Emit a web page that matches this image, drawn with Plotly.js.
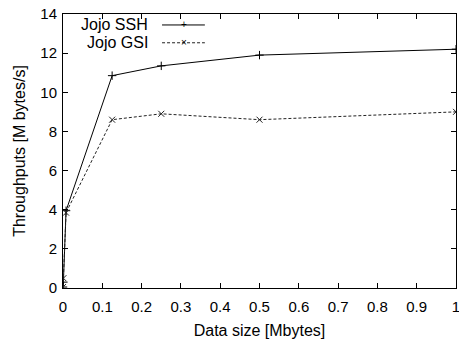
<!DOCTYPE html>
<html><head><meta charset="utf-8">
<script src="https://cdn.plot.ly/plotly-3.0.1.min.js"></script>
<style>html,body{margin:0;padding:0;background:#fff}</style>
</head><body>
<div id="chart" style="width:459px;height:341px"></div>
<script>
const dataSizes = [0.0001, 0.001, 0.0078, 0.125, 0.25, 0.5, 1];
const sshThroughput = [0.05, 0.3, 3.95, 10.85, 11.35, 11.9, 12.2];
const gsiThroughput = [0.05, 0.5, 3.85, 8.6, 8.9, 8.6, 9.0];
const seriesNames = ['Jojo SSH', 'Jojo GSI'];
const xTicks = [0, 0.1, 0.2, 0.3, 0.4, 0.5, 0.6, 0.7, 0.8, 0.9, 1];
const yTicks = [0, 2, 4, 6, 8, 10, 12, 14];

const fam = 'Liberation Sans, Arial, sans-serif';
const font = {family: fam, size: 16, color: '#000'};
const tickFont = {family: fam, size: 15, color: '#000'};
const traces = [
  {x: dataSizes, y: sshThroughput, name: seriesNames[0], mode: 'lines+markers',
   line: {color: '#000', width: 1}, marker: {symbol: 'cross-thin-open', size: 6, line: {color: '#000', width: 1}}},
  {x: dataSizes, y: gsiThroughput, name: seriesNames[1], mode: 'lines+markers',
   line: {color: '#222', width: 1, dash: '3px,2px'}, marker: {symbol: 'x-thin-open', size: 6, line: {color: '#000', width: 1}}}
];
const axisCommon = {showgrid: false, zeroline: false, showline: true, mirror: 'allticks', linecolor: '#000', linewidth: 1,
  ticks: 'inside', ticklen: 5, tickcolor: '#000', tickfont: tickFont, ticklabeloverflow: 'allow', automargin: false};
const layout = {
  width: 459, height: 341, margin: {l: 63, r: 3, t: 14, b: 53},
  paper_bgcolor: '#fff', plot_bgcolor: '#fff', showlegend: false, font: font,
  xaxis: Object.assign({}, axisCommon, {range: [0, 1], tickvals: xTicks, ticktext: xTicks.map(String),
    ticklabelstandoff: 5, title: {text: 'Data size [Mbytes]', font: font, standoff: 10}}),
  yaxis: Object.assign({}, axisCommon, {range: [0, 14], tickvals: yTicks, ticktext: yTicks.map(String),
    ticklabelstandoff: 2, title: {text: 'Throughputs [M bytes/s]', font: font, standoff: 10}}),
  annotations: [
    {xref: 'paper', yref: 'paper', x: 0.221, y: 0.96, text: seriesNames[0], showarrow: false, xanchor: 'right', yanchor: 'middle', font: font},
    {xref: 'paper', yref: 'paper', x: 0.221, y: 0.895, text: seriesNames[1], showarrow: false, xanchor: 'right', yanchor: 'middle', font: font},
    {xref: 'paper', yref: 'paper', x: 0.307, y: 0.96, text: '+', showarrow: false, xanchor: 'center', yanchor: 'middle', font: {family: fam, size: 10, color: '#000'}},
    {xref: 'paper', yref: 'paper', x: 0.307, y: 0.895, text: '×', showarrow: false, xanchor: 'center', yanchor: 'middle', font: {family: fam, size: 10, color: '#000'}}
  ],
  shapes: [
    {type: 'line', xref: 'paper', yref: 'paper', x0: 0.252, x1: 0.361, y0: 0.96, y1: 0.96, line: {color: '#000', width: 1}},
    {type: 'line', xref: 'paper', yref: 'paper', x0: 0.252, x1: 0.361, y0: 0.895, y1: 0.895, line: {color: '#222', width: 1, dash: '3px,2px'}}
  ]
};
Plotly.newPlot('chart', traces, layout, {displayModeBar: false, staticPlot: true});
</script>
</body></html>
